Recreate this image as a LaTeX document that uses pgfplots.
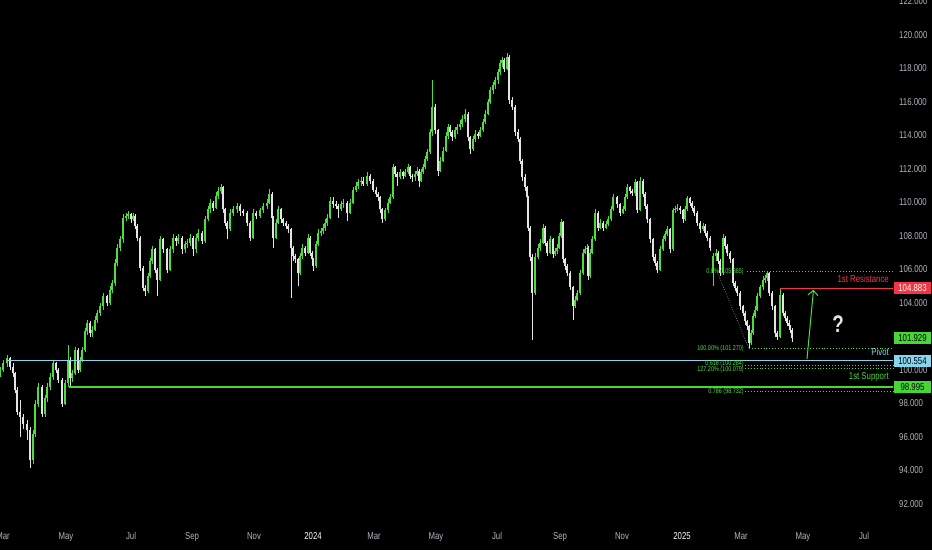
\documentclass[border=0pt]{standalone}
\usepackage{fontspec}
\setmainfont{Liberation Sans}
\newfontfamily\tv[FakeStretch=0.78]{Liberation Sans}
\usepackage{pgfplots}
\usepackage{pgfplotstable}
\pgfplotsset{compat=1.18}
\usetikzlibrary{arrows.meta}

\definecolor{cgreen}{RGB}{76,222,60}
\definecolor{cwhite}{RGB}{228,228,228}
\definecolor{pivotc}{RGB}{135,214,238}
\definecolor{resc}{RGB}{242,54,69}
\definecolor{supc}{RGB}{70,215,55}
\definecolor{tickc}{RGB}{178,181,190}

% daily-ish candles: x (px along time), open, high, low, close
\pgfplotstableread{
x o h l c
0 99.8 100.2 99.6 100.0
3 100.0 100.6 99.9 100.4
7 100.4 100.9 100.2 100.7
10 100.7 100.8 100.0 100.2
13 100.2 100.4 99.6 99.8
15 99.8 99.9 98.6 98.8
17 98.8 99.0 97.3 97.5
20 97.5 98.2 96.0 97.2
23 97.2 97.4 96.5 96.8
27 96.8 97.0 95.8 96.4
30 96.4 96.6 94.15 94.6
33 94.6 96.4 94.4 96.2
35 96.2 98.2 96.0 98.0
38 98.0 99.2 97.8 99.0
42 99.0 99.1 97.2 97.4
45 97.4 98.5 97.2 98.3
47 98.3 99.2 98.1 99.0
50 99.0 99.8 98.8 99.6
53 99.6 100.6 99.4 100.4
56 100.4 100.5 99.8 100.0
58 100.0 100.1 99.2 99.4
62 99.4 99.5 97.8 98.0
65 98.0 99.4 97.9 99.2
68 99.2 101.5 99.0 100.6
70 100.6 100.8 99.0 99.5
72 99.5 100.0 99.3 99.8
75 99.8 101.4 99.7 101.2
78 101.2 101.3 99.8 100.0
80 100.0 100.8 99.9 100.6
82 100.6 101.4 100.5 101.2
85 101.2 102.5 101.1 102.3
87 102.3 103.0 102.1 102.8
90 102.8 102.9 102.0 102.2
92 102.2 102.6 102.0 102.4
95 102.4 103.2 102.3 103.0
97 103.0 103.6 102.8 103.4
100 103.4 104.0 103.2 103.8
103 103.8 104.6 103.6 104.4
107 104.4 104.5 103.8 104.0
110 104.0 105.0 103.9 104.8
112 104.8 105.4 104.6 105.2
115 105.2 106.6 105.0 106.4
117 106.4 107.5 106.2 107.3
120 107.3 108.0 107.1 107.8
123 107.8 109.3 107.6 109.1
126 109.1 109.4 108.9 109.2
128 109.2 109.5 109.0 109.3
131 109.3 109.4 108.8 109.0
133 109.0 109.4 108.9 109.2
135 109.2 109.3 108.4 108.6
137 108.6 108.7 107.7 107.9
140 107.9 108.0 105.9 106.1
143 106.1 106.2 104.7 104.9
145 104.9 105.1 104.4 104.7
148 104.7 105.8 104.6 105.6
150 105.6 106.7 105.5 106.5
152 106.5 107.4 106.3 107.2
155 107.2 107.3 105.8 106.0
157 106.0 106.1 104.4 105.4
160 105.4 108.0 105.3 107.8
163 107.8 107.9 107.0 107.2
167 107.2 107.3 105.8 106.0
170 106.0 107.4 105.9 107.2
173 107.2 108.1 107.0 107.9
176 107.9 108.0 107.4 107.7
178 107.7 108.1 107.5 107.9
182 107.9 108.0 106.9 107.2
185 107.2 107.7 107.0 107.5
187 107.5 107.8 107.3 107.6
190 107.6 108.1 107.4 107.9
193 107.9 108.0 106.8 107.2
196 107.2 108.1 107.0 107.9
198 107.9 108.4 107.7 108.2
202 108.2 108.3 107.5 107.7
205 107.7 109.2 107.6 109.0
208 109.0 109.8 108.9 109.6
210 109.6 110.2 109.4 110.0
213 110.0 110.1 109.5 109.7
216 109.7 110.6 109.6 110.4
218 110.4 110.9 110.2 110.7
221 110.7 111.1 110.5 110.9
223 110.9 111.0 109.4 109.6
225 109.6 109.7 108.6 108.8
227 108.8 108.9 107.8 108.4
230 108.4 109.6 108.3 109.4
233 109.4 109.8 109.2 109.6
237 109.6 110.0 109.4 109.8
240 109.8 109.9 109.2 109.5
243 109.5 109.6 109.2 109.4
247 109.4 109.5 108.6 108.8
250 108.8 108.9 107.7 107.9
253 107.9 109.6 107.8 109.4
256 109.4 109.5 109.0 109.2
260 109.2 109.7 109.1 109.55
263 109.55 110.0 109.4 109.8
267 109.8 110.2 109.6 110.0
269 110.0 110.8 109.9 110.5
272 110.5 110.6 108.9 109.1
273 109.1 109.2 107.3 107.9
276 107.9 109.0 107.8 108.8
278 108.8 109.8 108.7 109.6
281 109.6 109.7 108.8 109.0
283 109.0 109.1 108.6 108.8
286 108.8 108.9 108.4 108.6
288 108.6 108.7 108.2 108.4
291 108.4 108.5 104.3 107.3
293 107.3 107.4 106.5 106.8
295 106.8 106.9 106.4 106.6
298 106.6 106.7 105.0 105.8
300 105.8 107.0 105.7 106.8
302 106.8 107.5 106.6 107.3
305 107.3 107.4 106.8 107.0
308 107.0 108.1 106.9 107.9
310 107.9 108.0 106.8 107.0
312 107.0 107.1 106.4 106.6
313 106.6 106.7 105.9 106.2
316 106.2 107.7 106.1 107.5
318 107.5 108.4 107.4 108.2
321 108.2 108.5 108.0 108.3
323 108.3 108.7 108.1 108.5
325 108.5 109.0 108.3 108.8
327 108.8 109.3 108.6 109.1
330 109.1 110.3 109.0 110.1
333 110.1 110.3 109.7 109.9
336 109.9 110.1 109.6 109.8
338 109.8 109.9 109.1 109.6
341 109.6 110.1 109.5 109.9
343 109.9 110.2 109.7 110.0
347 110.0 110.1 108.9 109.4
350 109.4 110.2 109.3 110.0
353 110.0 110.9 109.9 110.75
356 110.75 111.2 110.6 111.0
358 111.0 111.4 110.8 111.2
361 111.2 111.5 111.0 111.3
363 111.3 111.5 111.0 111.1
367 111.1 111.8 111.0 111.6
370 111.6 111.7 111.1 111.3
373 111.3 111.4 110.6 110.75
376 110.75 110.9 110.3 110.5
378 110.5 110.6 110.1 110.3
380 110.3 110.4 109.4 109.6
382 109.6 109.7 108.8 109.0
385 109.0 109.7 108.9 109.55
388 109.55 110.2 109.4 110.0
390 110.0 110.5 109.9 110.3
393 110.3 112.3 110.2 112.1
395 112.1 112.2 111.5 111.7
397 111.7 111.8 111.0 111.5
400 111.5 112.0 111.4 111.8
403 111.8 111.9 111.4 111.6
405 111.6 112.0 111.5 111.8
408 111.8 112.3 111.7 112.1
410 112.1 112.2 111.4 111.6
412 111.6 111.7 111.2 111.5
415 111.5 111.9 111.3 111.7
417 111.7 112.1 111.6 111.9
419 111.9 112.0 110.9 111.3
421 111.3 112.0 111.2 111.8
423 111.8 112.3 111.7 112.1
425 112.1 112.8 112.0 112.6
427 112.6 113.2 112.5 113.0
430 113.0 114.4 112.9 114.2
432 114.2 117.3 114.0 115.7
435 115.7 115.9 114.1 114.3
438 114.3 114.4 111.6 111.9
440 111.9 112.7 111.8 112.5
443 112.5 113.3 112.4 113.1
446 113.1 114.2 113.0 114.0
448 114.0 114.7 113.8 114.5
450 114.5 114.6 114.0 114.2
452 114.2 114.3 113.7 113.9
455 113.9 114.5 113.8 114.3
457 114.3 114.7 114.1 114.5
460 114.5 114.9 114.3 114.7
462 114.7 115.2 114.5 115.0
465 115.0 115.6 114.8 115.3
468 115.3 115.4 113.7 113.9
470 113.9 114.0 112.9 113.2
473 113.2 114.0 113.1 113.8
475 113.8 114.3 113.6 114.1
478 114.1 114.2 113.8 114.0
480 114.0 114.5 113.9 114.3
483 114.3 115.0 114.2 114.8
485 114.8 115.5 114.7 115.3
488 115.3 116.2 115.2 116.0
490 116.0 116.9 115.9 116.7
493 116.7 117.2 116.5 117.0
495 117.0 117.5 116.8 117.3
498 117.3 118.0 117.1 117.8
500 117.8 118.5 117.6 118.3
502 118.3 118.7 118.1 118.5
504 118.5 118.6 117.8 118.0
507 118.0 118.9 117.9 118.7
509 118.7 118.8 115.9 116.1
512 116.1 116.3 115.5 115.7
515 115.7 115.8 114.0 114.2
518 114.2 114.4 113.6 113.8
520 113.8 113.9 112.3 112.5
522 112.5 112.6 111.3 111.5
525 111.5 111.7 110.7 110.9
527 110.9 111.0 110.1 110.3
528 110.3 110.4 108.3 108.5
530 108.5 108.6 106.5 106.75
532 106.75 106.9 101.8 104.6
535 104.6 107.0 104.5 106.75
538 106.75 107.5 106.6 107.3
540 107.3 107.8 107.1 107.6
543 107.6 108.7 107.5 108.5
545 108.5 108.6 107.4 107.6
547 107.6 107.7 106.8 107.0
550 107.0 108.0 106.9 107.8
553 107.8 107.9 106.7 106.9
555 106.9 107.3 106.8 107.1
557 107.1 107.5 106.9 107.3
559 107.3 108.2 107.2 108.0
561 108.0 109.0 107.9 108.85
563 108.85 108.9 106.4 106.6
565 106.6 106.7 106.0 106.2
567 106.2 106.3 105.6 105.8
570 105.8 105.9 104.8 104.95
573 104.95 105.0 103.0 103.8
575 103.8 104.4 103.7 104.2
577 104.2 104.8 104.1 104.6
580 104.6 106.0 104.5 105.8
583 105.8 107.2 105.7 107.0
585 107.0 107.4 106.9 107.2
587 107.2 107.5 107.0 107.3
588 107.3 107.4 105.4 105.6
590 105.6 107.2 105.5 107.0
592 107.0 108.0 106.9 107.8
595 107.8 109.6 107.7 109.4
598 109.4 109.5 108.3 108.5
600 108.5 109.0 108.4 108.8
603 108.8 108.9 108.3 108.5
606 108.5 108.9 108.4 108.7
608 108.7 109.2 108.6 109.0
611 109.0 109.8 108.9 109.6
613 109.6 110.5 109.5 110.3
617 110.3 110.4 109.7 109.9
620 109.9 110.0 109.2 109.4
623 109.4 109.8 109.3 109.6
625 109.6 110.5 109.5 110.3
627 110.3 111.1 110.2 110.9
630 110.9 111.0 110.5 110.7
632 110.7 110.8 110.4 110.55
635 110.55 111.4 110.4 111.2
637 111.2 111.3 109.4 109.55
640 109.55 111.5 109.5 111.3
643 111.3 111.4 110.3 110.5
645 110.5 110.6 109.6 109.8
647 109.8 109.9 108.8 109.0
650 109.0 109.1 107.6 107.8
653 107.8 107.9 106.5 106.75
655 106.75 106.9 106.2 106.4
657 106.4 106.5 105.8 106.0
660 106.0 107.4 105.9 107.2
663 107.2 108.0 107.1 107.8
665 107.8 108.3 107.7 108.1
667 108.1 108.6 108.0 108.4
670 108.4 108.5 107.0 107.2
673 107.2 109.7 107.1 109.55
675 109.55 109.8 109.4 109.6
677 109.6 109.9 109.5 109.7
680 109.7 109.8 109.3 109.55
683 109.55 109.6 108.8 109.0
685 109.0 109.8 108.9 109.6
687 109.6 110.4 109.5 110.25
690 110.25 110.3 109.8 110.0
692 110.0 110.1 109.5 109.7
694 109.7 109.8 109.2 109.4
697 109.4 109.5 108.6 108.8
700 108.8 108.9 108.2 108.4
703 108.4 108.8 108.3 108.6
705 108.6 108.7 108.0 108.2
707 108.2 108.3 107.7 107.9
710 107.9 108.0 107.1 107.3
713 105.8 107.0 105.0 106.8
716 106.8 107.2 106.5 107.0
718 107.0 107.1 106.3 106.5
720 106.5 106.6 105.6 105.8
723 105.8 108.1 105.7 107.9
725 107.9 108.0 107.2 107.4
727 107.4 107.5 106.8 107.0
730 107.0 107.1 106.4 106.6
733 106.6 106.7 105.0 105.2
735 105.2 105.3 104.7 104.9
737 104.9 105.0 104.4 104.6
740 104.6 104.7 103.6 103.8
743 103.8 103.9 103.2 103.4
745 103.4 103.5 102.7 102.9
747 102.9 103.0 102.4 102.6
749 102.6 102.7 101.27 101.6
751 101.6 102.4 101.5 102.2
753 102.2 103.4 102.1 103.2
755 103.2 103.8 103.1 103.6
757 103.6 104.6 103.5 104.4
760 104.4 105.1 104.3 104.95
763 104.95 105.6 104.8 105.4
765 105.4 105.7 105.2 105.5
767 105.5 105.885 105.3 105.8
769 105.8 105.85 104.4 104.6
772 104.6 104.7 103.6 103.8
775 103.8 103.9 102.0 102.2
777 102.2 102.3 101.8 102.0
780 102.0 104.883 101.9 104.5
783 104.5 104.6 103.2 103.4
785 103.4 103.5 102.9 103.1
787 103.1 103.2 102.6 102.8
789 102.8 103.0 102.4 102.6
790 102.6 102.7 102.2 102.4
792 102.4 102.5 101.7 101.93
}\candles

\begin{document}
\begin{tikzpicture}
\useasboundingbox (0,-30pt) rectangle (932pt,520pt);
\fill[black] (0,-30pt) rectangle (932pt,520pt);
\begin{axis}[
  width=893pt, height=520pt, scale only axis,
  xmin=0, xmax=893, ymin=91.045, ymax=122.09,
  clip=false,
  axis background/.style={fill=black},
  axis line style={draw=none},
  major tick length=0pt,
  xtick={3,66,131,192,254,313,374,436,497,560,622,682,741,803,864},
  xticklabels={Mar,May,Jul,Sep,Nov,\textcolor{white}{2024},Mar,May,Jul,Sep,Nov,\textcolor{white}{2025},Mar,May,Jul},
  xticklabel style={font=\tv\fontsize{10}{11}\selectfont, text=tickc, anchor=base, yshift=-19.5pt, inner sep=0pt},
  ytick={92,94,...,122},
  yticklabel pos=right,
  yticklabel style={font=\tv\fontsize{10}{11}\selectfont, text=tickc, anchor=west, inner sep=0pt, xshift=6pt,
    /pgf/number format/.cd, fixed, fixed zerofill, precision=3, assume math mode=true},
]
% wicks and bodies, rising candles
\addplot[draw=none, forget plot, restrict expr to domain={\thisrow{c}-\thisrow{o}}{0:100},
  error bars/.cd, y dir=plus, y explicit, error mark=none,
  error bar style={draw=cgreen, line width=0.7pt}]
  table[x=x, y=l, y error plus expr={\thisrow{h}-\thisrow{l}}] {\candles};
\addplot[draw=none, forget plot, restrict expr to domain={\thisrow{c}-\thisrow{o}}{0:100},
  error bars/.cd, y dir=plus, y explicit, error mark=none,
  error bar style={draw=cgreen, line width=2.1pt}]
  table[x=x, y=o, y error plus expr={\thisrow{c}-\thisrow{o}}] {\candles};
% falling candles
\addplot[draw=none, forget plot, restrict expr to domain={\thisrow{o}-\thisrow{c}}{0.001:100},
  error bars/.cd, y dir=plus, y explicit, error mark=none,
  error bar style={draw=cwhite, line width=0.7pt}]
  table[x=x, y=l, y error plus expr={\thisrow{h}-\thisrow{l}}] {\candles};
\addplot[draw=none, forget plot, restrict expr to domain={\thisrow{o}-\thisrow{c}}{0.001:100},
  error bars/.cd, y dir=plus, y explicit, error mark=none,
  error bar style={draw=cwhite, line width=2.1pt}]
  table[x=x, y=c, y error plus expr={\thisrow{o}-\thisrow{c}}] {\candles};

% fibonacci levels
\addplot[cgreen, line width=0.8pt, dash pattern=on 0.9pt off 2pt] coordinates {(747,105.885) (893,105.885)};
\addplot[cgreen, line width=0.8pt, dash pattern=on 0.9pt off 2pt] coordinates {(749,101.270) (893,101.270)};
\addplot[cgreen, line width=0.8pt, dash pattern=on 0.9pt off 2pt] coordinates {(745,100.284) (893,100.284)};
\addplot[cgreen, line width=0.8pt, dash pattern=on 0.9pt off 2pt] coordinates {(745,100.079) (893,100.079)};
\addplot[cgreen, line width=0.8pt, dash pattern=on 0.9pt off 2pt] coordinates {(745,98.732) (893,98.732)};
\addplot[gray!80, line width=0.6pt, dash pattern=on 0.8pt off 1.6pt] coordinates {(717,105.885) (749,101.270)};

% key levels
\addplot[pivotc, line width=1.4pt] coordinates {(7,100.554) (893,100.554)};
\addplot[supc, line width=1.4pt] coordinates {(69,98.995) (893,98.995)};
\addplot[resc, line width=1.4pt] coordinates {(780,104.883) (893,104.883)};

\draw[cgreen, line width=1pt, -{Straight Barb[length=5pt,width=10pt]}] (axis cs:807,100.66) -- (axis cs:813.5,104.8);

\begin{scope}[every node/.style={inner sep=0pt, font=\tv\fontsize{7}{8}\selectfont, text=cgreen, anchor=east}]
\node at (axis cs:744,105.885) {0.0\% (105.885)};
\node at (axis cs:744,101.270) {100.00\% (101.270)};
\node at (axis cs:744,100.36) {0.618 (100.284)};
\node at (axis cs:744,100.0) {127.20\% (100.079)};
\node at (axis cs:744,98.732) {0.786 (98.732)};
\end{scope}

\begin{scope}[every node/.style={inner sep=0pt, font=\tv\fontsize{10}{11}\selectfont, anchor=east}]
\node[text=resc] at (axis cs:889,105.45) {1st Resistance};
\node[text=pivotc] at (axis cs:889,101.05) {Pivot};
\node[text=supc] at (axis cs:889,99.55) {1st Support};
\end{scope}
\node[text=cwhite, font=\tv\bfseries\fontsize{24}{26}\selectfont, inner sep=0pt] at (axis cs:838,102.75) {?};

\coordinate (rtag) at (axis cs:912.5,104.883);
\coordinate (ctag) at (axis cs:912.5,101.929);
\coordinate (ptag) at (axis cs:912.5,100.554);
\coordinate (stag) at (axis cs:912.5,98.995);
\end{axis}
\begin{scope}[every node/.style={inner sep=0pt, minimum width=37pt, minimum height=12pt, font=\tv\fontsize{10}{11}\selectfont}]
\node[fill=resc, text=white] at (rtag) {104.883};
\node[fill=supc, text=black] at (ctag) {101.929};
\node[fill=pivotc, text=black] at (ptag) {100.554};
\node[fill=supc, text=black] at (stag) {98.995};
\end{scope}
\end{tikzpicture}
\end{document}
